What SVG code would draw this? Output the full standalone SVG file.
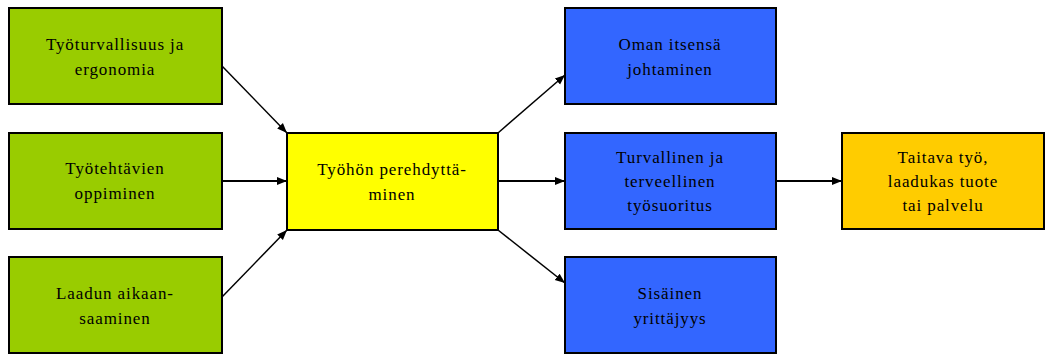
<svg xmlns="http://www.w3.org/2000/svg" width="1045" height="354" viewBox="0 0 1045 354">
<defs>
<style>
.box{stroke:#000;stroke-width:2}
.g{fill:#99cc00}.y{fill:#ffff00}.b{fill:#3366ff}.o{fill:#ffcc00}
text{font-family:"Liberation Serif","DejaVu Serif",serif;font-size:17px;letter-spacing:0.9px;fill:#000;text-anchor:middle}
.c{stroke:#000;stroke-width:2;fill:none;marker-end:url(#ah)}
.d{stroke-width:1.5}
</style>
<marker id="ah" viewBox="0 0 10 10" refX="10" refY="5" markerWidth="6" markerHeight="6" orient="auto" markerUnits="userSpaceOnUse"><path d="M0,0L10,5L0,10z" fill="#000"/></marker>
<marker id="ah2" viewBox="0 0 10 10" refX="10" refY="5" markerWidth="10" markerHeight="10" orient="auto" markerUnits="userSpaceOnUse"><path d="M0,1L10,5L0,9z" fill="#000"/></marker>
</defs>
<g id="connectors">
<line class="c d" x1="222" y1="66" x2="287" y2="133" style="marker-end:url(#ah2)"/>
<line class="c" x1="222" y1="181" x2="287" y2="181" style="marker-end:url(#ah2)"/>
<line class="c d" x1="222" y1="297" x2="287" y2="230" style="marker-end:url(#ah2)"/>
<line class="c d" x1="498" y1="133" x2="565" y2="75" style="marker-end:url(#ah2)"/>
<line class="c" x1="498" y1="181" x2="565" y2="181" style="marker-end:url(#ah2)"/>
<line class="c d" x1="498" y1="230" x2="565" y2="283" style="marker-end:url(#ah2)"/>
<line class="c" x1="776" y1="181" x2="842" y2="181" style="marker-end:url(#ah2)"/>
</g>
<g id="n1"><rect class="box g" x="9" y="8" width="213" height="96"/><text x="115" y="50">Työturvallisuus ja</text><text x="115" y="75">ergonomia</text></g>
<g id="n2"><rect class="box g" x="9" y="133" width="213" height="96"/><text x="115" y="174">Työtehtävien</text><text x="115" y="199">oppiminen</text></g>
<g id="n3"><rect class="box g" x="9" y="257" width="213" height="96"/><text x="115" y="299">Laadun aikaan-</text><text x="115" y="324">saaminen</text></g>
<g id="n4"><rect class="box y" x="287" y="133" width="211" height="97"/><text x="392" y="175">Työhön perehdyttä-</text><text x="392" y="200">minen</text></g>
<g id="n5"><rect class="box b" x="565" y="8" width="211" height="96"/><text x="670" y="50">Oman itsensä</text><text x="670" y="75">johtaminen</text></g>
<g id="n6"><rect class="box b" x="565" y="133" width="211" height="96"/><text x="670" y="163">Turvallinen ja</text><text x="670" y="187">terveellinen</text><text x="670" y="211">työsuoritus</text></g>
<g id="n7"><rect class="box b" x="565" y="257" width="211" height="96"/><text x="670" y="299">Sisäinen</text><text x="670" y="324">yrittäjyys</text></g>
<g id="n8"><rect class="box o" x="842" y="133" width="202" height="96"/><text x="943" y="163">Taitava työ,</text><text x="943" y="187">laadukas tuote</text><text x="943" y="211">tai palvelu</text></g>
</svg>
